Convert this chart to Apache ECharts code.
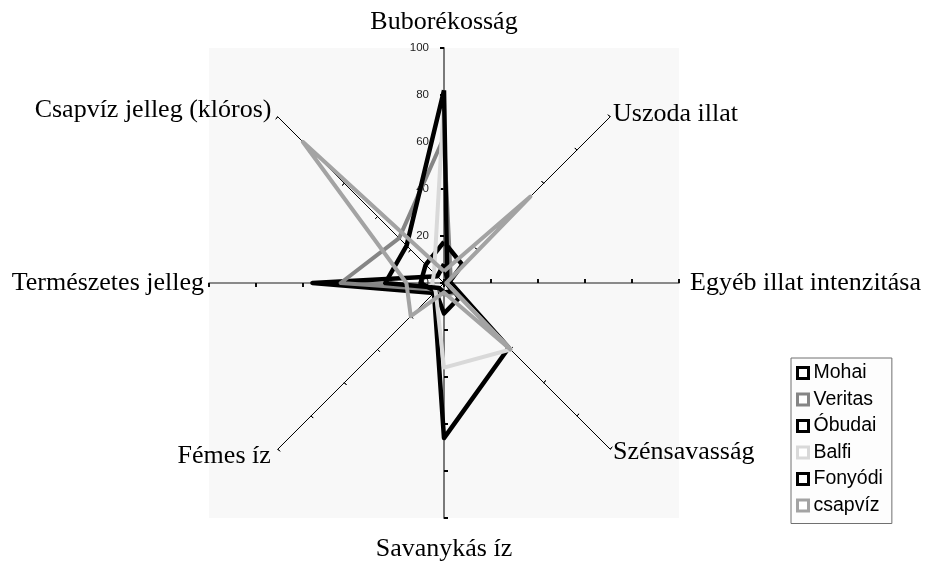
<!DOCTYPE html>
<html><head><meta charset="utf-8">
<script src="https://cdn.jsdelivr.net/npm/echarts@6/dist/echarts.min.js"></script>
<style>html,body{margin:0;padding:0;background:#fff}#c{width:930px;height:562px}</style>
</head><body><div id="c"></div>
<script>
// ---- data (categories in the reference's clockwise order, starting at the top) ----
const categories = ['Buborékosság', 'Uszoda illat', 'Egyéb illat intenzitása', 'Szénsavasság',
                    'Savanykás íz', 'Fémes íz', 'Természetes jelleg', 'Csapvíz jelleg (klóros)'];
const seriesNames = ['Mohai', 'Veritas', 'Óbudai', 'Balfi', 'Fonyódi', 'csapvíz'];
const mohai   = [8, 2, 3, 39, 66, 6, 56, 4];
const veritas = [62, 4, 2, 6, 5, 4, 44, 27];
const obudai  = [17.5, 11, 2, 9, 13, 5, 10, 11];
const balfi   = [78, 2, 1, 40, 36, 5, 5, 6];
const fonyodi = [82, 2, 1, 5, 4, 3, 25, 22.5];
const csapviz = [5, 52, 1, 40, 4, 20, 16, 85];
const axisMin = 0, axisMax = 100, axisStep = 20;
const tickLabels = [0, 20, 40, 60, 80, 100];

// ---- styles ----
const seriesColors = ['#000000', '#858585', '#000000', '#d9d9d9', '#000000', '#a3a3a3'];
const seriesWidths = [4.5, 4, 4.5, 4, 4.5, 4];
// per category (same order as categories): axis line style and name gap
const axisLineStyles = [
  {color: '#7a7a7a', width: 2}, {color: '#000', width: 1}, {color: '#666', width: 1.5}, {color: '#000', width: 1},
  {color: '#7a7a7a', width: 2}, {color: '#000', width: 1}, {color: '#666', width: 1.5}, {color: '#000', width: 1}
];
const tickStyles = [
  {len: 4, width: 2}, {len: 3, width: 1}, {len: 4, width: 1.5}, {len: 3, width: 1},
  {len: 4, width: 2}, {len: 3, width: 1}, {len: 4, width: 1.5}, {len: 3, width: 1}
];
const nameGaps = [13, 4, 11, 4, 18, 10, 5, 9];

// ECharts lays radar indicators out counter-clockwise; reorder to get the clockwise layout
const order = [0, 7, 6, 5, 4, 3, 2, 1];
const reorder = arr => order.map(i => arr[i]);

const CX = 444, CY = 283, R = 235;

function makeIndicators(inside) {
  return order.map(i => ({
    name: categories[i], min: axisMin, max: axisMax,
    nameGap: nameGaps[i],
    axisLine: {show: !inside, lineStyle: axisLineStyles[i]},
    axisTick: {show: true, inside: inside, length: tickStyles[i].len,
               lineStyle: {color: '#000', width: tickStyles[i].width}}
  }));
}

const allData = [mohai, veritas, obudai, balfi, fonyodi, csapviz];

const option = {
  animation: false,
  backgroundColor: '#ffffff',
  grid: [
    {left: CX - R, top: CY - R, width: 2 * R, height: 2 * R, show: true,
     backgroundColor: '#f8f8f8', borderWidth: 0},
    {left: CX, top: CY - R, width: 20, height: R, show: false}
  ],
  xAxis: [
    {gridIndex: 0, show: false, min: 0, max: 1},
    {gridIndex: 1, show: false, min: 0, max: 1}
  ],
  yAxis: [
    {gridIndex: 0, show: false, min: 0, max: 1},
    {gridIndex: 1, min: axisMin, max: axisMax, interval: axisStep, position: 'left',
     axisLine: {show: false}, axisTick: {show: false}, splitLine: {show: false},
     axisLabel: {margin: 15, fontFamily: 'Liberation Sans', fontSize: 11.5, color: '#222',
                 formatter: v => tickLabels.includes(v) ? String(v) : ''}}
  ],
  radar: [
    {
      center: [CX, CY], radius: R, startAngle: 90, splitNumber: 5, shape: 'polygon',
      indicator: makeIndicators(false),
      axisName: {color: '#000', fontFamily: 'Liberation Serif', fontSize: 26},
      splitLine: {show: false}, splitArea: {show: false}
    },
    {
      center: [CX, CY], radius: R, startAngle: 90, splitNumber: 5, shape: 'polygon',
      indicator: makeIndicators(true),
      axisName: {show: false},
      splitLine: {show: false}, splitArea: {show: false}
    }
  ],
  legend: {
    orient: 'vertical', left: 791, top: 358,
    backgroundColor: '#fdfdfd', borderColor: '#707070', borderWidth: 1,
    padding: [5, 9, 8, 5], itemGap: 6.5, itemWidth: 11, itemHeight: 11,
    textStyle: {fontFamily: 'Liberation Sans', fontSize: 19.5, color: '#000'},
    data: seriesNames.map((n, k) => ({
      name: n, icon: 'rect',
      itemStyle: {color: '#ffffff', borderColor: seriesColors[k], borderWidth: 3}
    }))
  },
  series: seriesNames.map((n, k) => ({
    name: n, type: 'radar', radarIndex: 0, symbol: 'none',
    lineStyle: {color: seriesColors[k], width: seriesWidths[k]},
    itemStyle: {color: seriesColors[k]},
    data: [{value: reorder(allData[k]), name: n}]
  }))
};

const chart = echarts.init(document.getElementById('c'));
chart.setOption(option);
</script>
</body></html>
